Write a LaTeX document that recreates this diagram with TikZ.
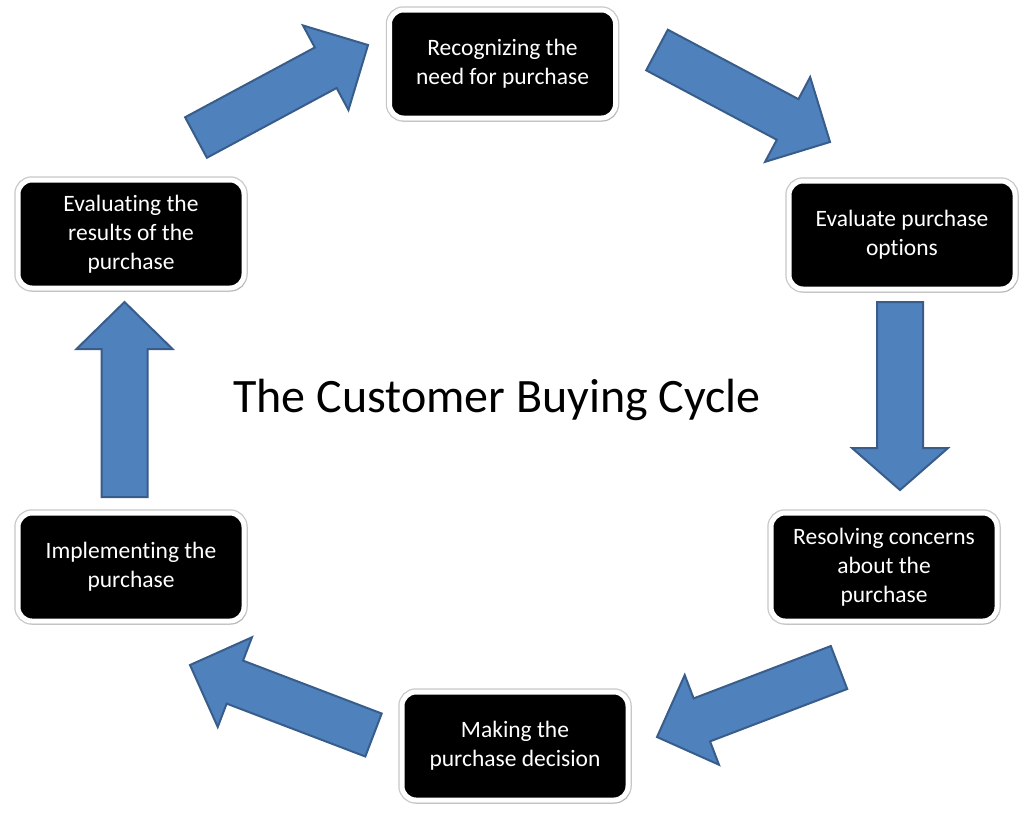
\documentclass[tikz,border=0pt]{standalone}
\usepackage{fontspec}
\setmainfont{Carlito}[Ligatures=NoCommon]
\usetikzlibrary{calc,shadows}
\definecolor{arrowfill}{HTML}{4F81BD}
\definecolor{arrowline}{HTML}{385D8A}
\tikzset{
  stagebox/.style={fill=black, draw=white, line width=5pt, rounded corners=14pt,
    minimum width=226pt, minimum height=108pt, text=white, align=center,
    font=\fontsize{23.5}{29}\selectfont, inner sep=0pt,
    preaction={draw=black!22, line width=7.5pt},
    drop shadow={opacity=0.3, shadow xshift=2pt, shadow yshift=-3pt}},
  blockarrow/.style={fill=arrowfill, draw=arrowline, line width=2pt, line join=miter},
}
% #1 tail, #2 tip, #3 head length
\newcommand{\blockarrowdraw}[3]{%
  \coordinate (hb) at ($(#2)!#3!(#1)$);
  \draw[blockarrow] ($(#1)!23pt!90:(#2)$) -- ($(hb)!23pt!90:(#2)$) -- ($(hb)!48pt!90:(#2)$)
    -- (#2) -- ($(hb)!48pt!-90:(#2)$) -- ($(hb)!23pt!-90:(#2)$) -- ($(#1)!23pt!-90:(#2)$) -- cycle;}
\begin{document}
\begin{tikzpicture}[x=1pt,y=-1pt]
\useasboundingbox[fill=white] (0,0) rectangle (1024,815);
% stage boxes
\node[stagebox] (b1) at (502.5,64) {Recognizing the\\need for purchase};
\node[stagebox] (b2) at (902,235) {Evaluate purchase\\options};
\node[stagebox] (b3) at (884,567) {Resolving concerns\\about the\\purchase};
\node[stagebox] (b4) at (515,746) {Making the\\purchase decision};
\node[stagebox] (b5) at (131,567) {Implementing the\\purchase};
\node[stagebox] (b6) at (131,234) {Evaluating the\\results of the\\purchase};
% title
\node[font=\fontsize{48}{54}\selectfont] (title) at (497,400) {The Customer Buying Cycle};
% arrow end points
\coordinate (a1t) at (196,137.5); \coordinate (a1h) at (368,45);
\coordinate (a2t) at (657,50);    \coordinate (a2h) at (830,142);
\coordinate (a3t) at (900,302);   \coordinate (a3h) at (900,490);
\coordinate (a4t) at (839,667.5); \coordinate (a4h) at (657,737);
\coordinate (a5t) at (373.5,735); \coordinate (a5h) at (190,665);
\coordinate (a6t) at (124.5,497); \coordinate (a6h) at (124.5,302);
\blockarrowdraw{a1t}{a1h}{48pt}
\blockarrowdraw{a2t}{a2h}{48pt}
\blockarrowdraw{a3t}{a3h}{42pt}
\blockarrowdraw{a4t}{a4h}{48pt}
\blockarrowdraw{a5t}{a5h}{48pt}
\blockarrowdraw{a6t}{a6h}{47pt}
\end{tikzpicture}
\end{document}
